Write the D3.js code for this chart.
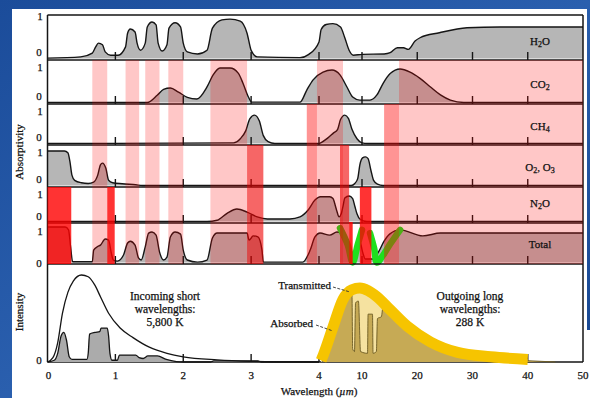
<!DOCTYPE html>
<html><head><meta charset="utf-8">
<script src="https://cdn.jsdelivr.net/npm/d3@7"></script>
<style>html,body{margin:0;padding:0;background:#1c4f9c;overflow:hidden}svg{display:block}</style>
</head><body>
<svg id="c" width="590" height="398"></svg>
<script>
// ---------------- DATA ----------------
const axisTicks = [0,1,2,3,4,10,20,30,40,50];
const innerTicks = [1,2,3,4,10,20,30,40];
const gasLabels = ["H_2O","CO_2","CH_4","O_2, O_3","N_2O","Total"];

// absorptivity spectra [wavelength µm, absorptivity 0..1]
const h2o = [[0,0.01],[0.49,0.04],[0.66,0.13],[0.71,0.28],[0.75,0.37],[0.81,0.33],[0.85,0.16],[0.93,0.08],[1.04,0.08],[1.15,0.28],[1.18,0.61],[1.22,0.71],[1.29,0.64],[1.32,0.37],[1.37,0.2],[1.44,0.37],[1.47,0.76],[1.54,0.88],[1.6,0.81],[1.63,0.37],[1.69,0.18],[1.76,0.33],[1.79,0.73],[1.88,0.86],[1.96,0.76],[2.0,0.37],[2.06,0.16],[2.21,0.11],[2.35,0.2],[2.43,0.73],[2.57,0.93],[2.69,0.95],[2.84,0.9],[2.94,0.61],[3.0,0.2],[3.09,0.04],[3.72,0.02],[3.85,0.1],[4.0,0.4],[4.3,0.7],[5.0,0.82],[5.95,0.84],[7.0,0.76],[7.6,0.5],[8.2,0.2],[8.8,0.08],[10,0.1],[14,0.11],[15.1,0.14],[16.4,0.26],[17.5,0.26],[18.4,0.22],[19.6,0.42],[20.5,0.5],[24,0.62],[29,0.74],[35,0.76],[50,0.76]];
const co2 = [[0,0],[1.47,0],[1.62,0.22],[1.71,0.38],[1.81,0.42],[1.93,0.3],[2.06,0.15],[2.2,0.1],[2.35,0.45],[2.44,0.8],[2.54,1.0],[2.69,1.0],[2.81,0.85],[2.88,0.56],[2.96,0.16],[3.01,0.01],[3.72,0.01],[3.82,0.36],[3.91,0.65],[4.56,0.88],[5.81,0.94],[6.93,0.8],[7.9,0.45],[8.7,0.16],[9.7,0.07],[11.45,0.07],[12.7,0.22],[13.8,0.55],[15.1,0.84],[16.9,0.97],[18.7,0.88],[20.5,0.7],[22.4,0.45],[24.2,0.22],[26,0.07],[28.4,0],[50,0]];
const ch4 = [[0,0],[2.74,0.02],[2.84,0.15],[2.92,0.4],[2.98,0.78],[3.05,0.9],[3.12,0.72],[3.18,0.25],[3.25,0.06],[3.35,0],[4.0,0],[4.3,0.03],[5.2,0.17],[6.0,0.33],[6.6,0.45],[7.0,0.76],[7.6,0.9],[8.1,0.8],[8.6,0.45],[9.3,0.15],[10,0.02],[11,0],[50,0]];
const o2o3 = [[0,1.0],[0.25,1.0],[0.3,0.95],[0.33,0.7],[0.36,0.3],[0.4,0.15],[0.5,0.08],[0.6,0.06],[0.68,0.1],[0.74,0.3],[0.78,0.6],[0.81,0.65],[0.86,0.5],[0.9,0.15],[0.96,0.08],[1.1,0.05],[1.3,0.02],[1.4,0],[8.5,0],[9.0,0.06],[9.4,0.2],[9.7,0.6],[10.1,0.8],[10.6,0.83],[11.1,0.78],[11.6,0.45],[12.1,0.15],[12.8,0.04],[13.8,0],[50,0]];
const n2o = [[0,0],[2.35,0],[2.5,0.05],[2.65,0.33],[2.79,0.49],[2.94,0.37],[3.09,0.18],[3.24,0.1],[3.57,0.1],[3.72,0.18],[3.84,0.45],[3.94,0.84],[4.2,0.97],[5.5,0.97],[5.95,0.9],[6.3,0.6],[6.5,0.4],[6.8,0.18],[7.1,0.3],[7.35,0.6],[7.6,0.92],[8.2,1.0],[8.7,0.9],[9.0,0.6],[9.3,0.3],[9.7,0.1],[10.9,0],[50,0]];
const total = [[0,1.0],[0.26,1.0],[0.31,0.92],[0.34,0.45],[0.37,0.02],[0.66,0.02],[0.68,0.35],[0.74,0.45],[0.78,0.49],[0.85,0.66],[0.9,0.63],[0.94,0.27],[0.97,0.07],[1.03,0.04],[1.12,0.21],[1.18,0.55],[1.22,0.6],[1.29,0.49],[1.34,0.13],[1.38,0.07],[1.44,0.44],[1.49,0.83],[1.54,0.86],[1.6,0.77],[1.65,0.3],[1.71,0.07],[1.76,0.15],[1.81,0.72],[1.88,0.86],[1.96,0.8],[2.0,0.35],[2.06,0.07],[2.21,0.01],[2.35,0.07],[2.43,0.69],[2.5,0.83],[2.69,0.83],[2.94,0.83],[2.97,0.63],[3.03,0.75],[3.1,0.72],[3.16,0.35],[3.18,0.01],[3.76,0.01],[3.87,0.35],[3.94,0.72],[4.14,0.83],[5.5,0.77],[6.5,0.86],[7.5,0.8],[8.0,0.6],[8.5,0.2],[8.9,0.1],[9.3,0.35],[9.7,0.6],[10.1,0.3],[10.6,0.1],[12,0.1],[13,0.3],[14,0.6],[15,0.8],[16.9,0.92],[21,0.75],[24.2,0.83],[50,0.83]];

// hand-drawn green check marks in the Total panel
const windowMark1 = [[6.93,0.97],[8.0,0.5],[8.7,0.0],[9.4,0.5],[10,0.92]];
const windowMark2 = [[11.45,0.83],[12.2,0.4],[12.7,0.0],[13.8,0.2],[15.1,0.52],[16.9,0.92]];

// intensity spectra [wavelength µm, relative intensity]
const incoming5800 = [[0,0],[0.08,0.05],[0.15,0.22],[0.22,0.56],[0.3,0.8],[0.38,0.93],[0.5,1.0],[0.6,0.98],[0.7,0.88],[0.78,0.75],[0.9,0.56],[1.07,0.39],[1.26,0.28],[1.5,0.17],[1.76,0.1],[2.0,0.06],[2.5,0.025],[3.0,0.008],[3.5,0.002],[4,0]];
const absorbedIncoming = [[0,0],[0.1,0.02],[0.15,0.1],[0.2,0.3],[0.24,0.34],[0.28,0.25],[0.32,0.06],[0.36,0.03],[0.58,0.03],[0.6,0.1],[0.62,0.32],[0.7,0.34],[0.77,0.35],[0.79,0.39],[0.88,0.39],[0.9,0.3],[0.92,0.1],[0.95,0.02],[1.03,0.02],[1.06,0.08],[1.3,0.08],[1.35,0.05],[1.41,0.04],[1.48,0.07],[1.62,0.07],[1.75,0.03],[1.9,0.005],[2.0,0],[2.4,0],[2.45,0.012],[3.1,0.012],[3.15,0],[4,0]];
const outgoing288 = [[4.3,0.02],[4.6,0.08],[5.95,0.4],[7.35,0.72],[8.6,0.83],[9.7,0.85],[11.1,0.82],[12.7,0.75],[15.1,0.6],[18.2,0.41],[22.4,0.23],[27.3,0.11],[33.3,0.06],[40,0.03]];
const absorbedOutgoing = [[4.5,0],[4.7,0.06],[5.95,0.36],[7.35,0.66],[8.4,0.76],[8.6,0.77],[8.7,0.15],[8.95,0.12],[9.1,0.68],[9.5,0.7],[9.8,0.12],[11.0,0.1],[11.1,0.55],[11.9,0.55],[12.0,0.1],[12.6,0.12],[12.8,0.5],[13.5,0.52],[13.9,0.68],[15.1,0.55],[18.2,0.37],[22.4,0.2],[27.3,0.09],[33.3,0.04],[40,0.015],[45,0]];

// highlighted bands [from µm, to µm]
const lightBands = [[0.66,0.88],[1.15,1.35],[1.44,1.65],[1.78,2.0],[2.4,2.94],[3.97,7.35],[16.7,50]];
const mediumBands = [[3.82,3.97],[14.0,16.7]];
const o3Bands = [[2.94,3.18],[6.93,8.2]];
const brightBands = [[0,0.35],[0.88,0.99],[9.7,11.7]];
const thinBands = [[8.2,8.7]];

// ---------------- LAYOUT ----------------
const svg = d3.select("#c");
const FONT = "'Liberation Serif','Times New Roman',serif";
const x = d3.scaleLinear().domain([0,4,10,50]).range([47.5,319,362,583]);
const L = 47.5, R = 583;
const panels = [
  {top:15, bot:60, y0:58.5, y1:17, one:17, zero:53, ly:42},
  {top:60, bot:104, y0:102.5, y1:68, one:68, zero:97, ly:85},
  {top:104, bot:145, y0:143.5, y1:112, one:112, zero:138, ly:127},
  {top:145, bot:187, y0:185.5, y1:151, one:153, zero:180, ly:168},
  {top:187, bot:223, y0:221.5, y1:196, one:195, zero:217, ly:204},
  {top:223, bot:264, y0:262.5, y1:227, one:232, zero:264, ly:245}
];
const series = [h2o, co2, ch4, o2o3, n2o, total];
const yI = d3.scaleLinear().domain([0,1]).range([362,275]);

// background
const bg = svg.append("defs").append("linearGradient").attr("id","bg").attr("x1",0).attr("y1",0).attr("x2",1).attr("y2",1);
bg.append("stop").attr("offset","0%").attr("stop-color","#1b4c9a");
bg.append("stop").attr("offset","50%").attr("stop-color","#2a5fae");
bg.append("stop").attr("offset","100%").attr("stop-color","#17468f");
svg.append("rect").attr("width",590).attr("height",398).attr("fill","url(#bg)");
svg.append("rect").attr("x",12).attr("y",9).attr("width",575).attr("height",389).attr("fill","#fff");
svg.append("rect").attr("x",586).attr("y",330).attr("width",4).attr("height",68).attr("fill","#fff");

// absorption curves
series.forEach((s,i)=>{
  const p = panels[i];
  const ys = d3.scaleLinear().domain([0,1]).range([p.y0,p.y1]);
  const area = d3.area().x(d=>x(d[0])).y0(p.y0).y1(d=>ys(d[1])).curve(d3.curveMonotoneX);
  const line = d3.line().x(d=>x(d[0])).y(d=>ys(d[1])).curve(d3.curveMonotoneX);
  svg.append("path").attr("d",area(s)).attr("fill","#b6b6b6");
  svg.append("path").attr("d",line(s)).attr("fill","none").attr("stroke","#151515").attr("stroke-width",1.4);
});

// green marks in Total panel
{
  const p = panels[5];
  const ys = d3.scaleLinear().domain([0,1]).range([p.y0,p.y1]);
  const gl = d3.line().x(d=>x(d[0])).y(d=>ys(d[1])).curve(d3.curveCatmullRom);
  [windowMark1, windowMark2].forEach(m=>{
    svg.append("path").attr("d",gl(m)).attr("fill","none").attr("stroke","#1ee01e")
      .attr("stroke-width",6.5).attr("stroke-linecap","round").attr("stroke-linejoin","round");
  });
}

// frame
const frame = svg.append("g").attr("stroke","#151515").attr("stroke-width",1.5);
[15,60,104,145,187,223,264,362].forEach(y=>frame.append("line").attr("x1",L).attr("x2",R).attr("y1",y).attr("y2",y));
frame.append("line").attr("x1",L).attr("x2",L).attr("y1",15).attr("y2",362);
frame.append("line").attr("x1",R).attr("x2",R).attr("y1",15).attr("y2",362);
[60,104,145,187,223,264,362].forEach(yb=>{
  innerTicks.forEach(t=>{
    frame.append("line").attr("x1",x(t)).attr("x2",x(t)).attr("y1",yb).attr("y2",yb-8).attr("stroke-width",1.4);
  });
});

// band overlays
function bands(arr, top, bot, color, op){
  svg.append("g").selectAll("rect").data(arr).join("rect")
    .attr("x",d=>x(d[0])).attr("width",d=>x(d[1])-x(d[0]))
    .attr("y",top).attr("height",bot-top).attr("fill",color).attr("fill-opacity",op);
}
bands(lightBands, 60, 264, "#ff0000", 0.22);
bands(mediumBands, 104, 264, "#ff0000", 0.42);
bands(o3Bands, 145, 264, "#f00000", 0.6);
bands(brightBands, 187, 264, "#ff0000", 0.8);
bands(thinBands, 222, 264, "#ff0000", 0.85);

// intensity panel
const ia = d3.area().x(d=>x(d[0])).y0(yI(0)).y1(d=>yI(d[1])).curve(d3.curveMonotoneX);
const il = d3.line().x(d=>x(d[0])).y(d=>yI(d[1])).curve(d3.curveMonotoneX);
svg.append("path").attr("d",ia(outgoing288)).attr("fill","#f5e2a0");
svg.append("path").attr("d",ia(absorbedOutgoing)).attr("fill","#c6aa55");
svg.append("path").attr("d",il(absorbedOutgoing)).attr("fill","none").attr("stroke","#6b5a22").attr("stroke-width",0.9);
svg.append("path").attr("d",ia(absorbedIncoming)).attr("fill","#ababab");
svg.append("path").attr("d",il(absorbedIncoming)).attr("fill","none").attr("stroke","#151515").attr("stroke-width",1.3);
svg.append("path").attr("d",il(incoming5800)).attr("fill","none").attr("stroke","#151515").attr("stroke-width",1.3);
svg.append("path").attr("d",il(outgoing288)).attr("fill","none").attr("stroke","#f6c400")
  .attr("stroke-width",11).attr("stroke-linecap","butt").attr("stroke-linejoin","round");

// leader lines
const lead = svg.append("g").attr("stroke","#333").attr("stroke-width",0.9).attr("stroke-dasharray","3,1.5");
lead.append("line").attr("x1",333).attr("y1",287).attr("x2",350).attr("y2",292);
lead.append("line").attr("x1",316).attr("y1",325).attr("x2",333).attr("y2",331);

// texts
function txt(s,xx,yy,opt={}){
  return svg.append("text").attr("x",xx).attr("y",yy).attr("font-family",FONT)
    .attr("font-size",opt.size||11).attr("fill","#111").attr("stroke","#111").attr("stroke-width",0.25)
    .attr("text-anchor",opt.anchor||"middle")
    .attr("dominant-baseline","middle").text(s);
}
gasLabels.forEach((g,i)=>{
  const t = svg.append("text").attr("x",540).attr("y",panels[i].ly).attr("font-family",FONT)
    .attr("font-size",11).attr("fill","#111").attr("stroke","#111").attr("stroke-width",0.25)
    .attr("text-anchor","middle").attr("dominant-baseline","middle");
  const parts = g.split(/(_\d)/).filter(s=>s.length);
  parts.forEach((pt,k)=>{
    if(pt[0]==="_") t.append("tspan").attr("font-size",8).attr("dy",2.5).text(pt.slice(1));
    else { const ts = t.append("tspan").text(pt); if(k>0) ts.attr("dy",-2.5); }
  });
});
panels.forEach(p=>{
  txt("1",40,p.one);
  txt("0",39,p.zero);
});
txt("0",39,361);
axisTicks.forEach(t=>txt(String(t),x(t)+(t===0?1:0),376));
txt("Absorptivity",0,0).attr("transform","translate(20,152) rotate(-90)");
txt("Intensity",0,0).attr("transform","translate(20,312) rotate(-90)");
{
  const w = txt("Wavelength (",319,392);
  w.append("tspan").attr("font-style","italic").text("µm");
  w.append("tspan").text(")");
}
txt("Incoming short",165,297,{size:11.5});
txt("wavelengths:",165,310,{size:11.5});
txt("5,800 K",165,323,{size:11.5});
txt("Outgoing long",470,297,{size:11.5});
txt("wavelengths:",470,310,{size:11.5});
txt("288 K",470,323,{size:11.5});
txt("Transmitted",331,286,{anchor:"end"});
txt("Absorbed",313,324,{anchor:"end"});
</script>
</body></html>
